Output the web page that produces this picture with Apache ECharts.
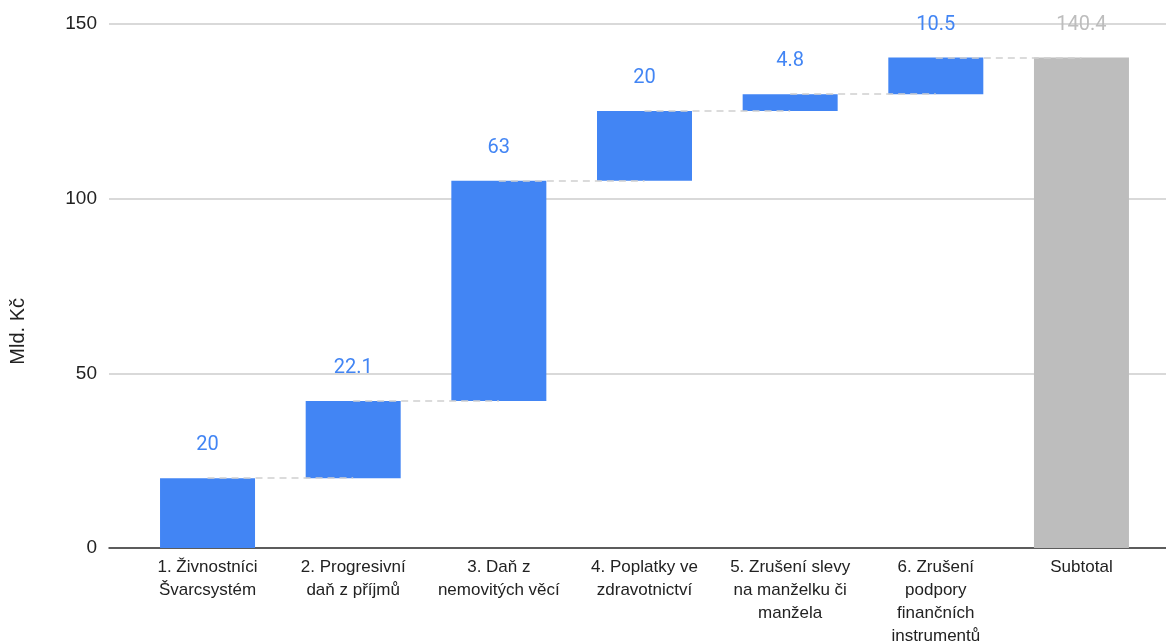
<!DOCTYPE html>
<html>
<head>
<meta charset="utf-8">
<script src="https://cdn.jsdelivr.net/npm/echarts@6/dist/echarts.min.js"></script>
<style>
  html, body { margin: 0; padding: 0; background: #fff; }
  #chart { width: 1166px; height: 642px; }
</style>
</head>
<body>
<div id="chart"></div>
<script>
// waterfall - Mld. Kč
var categories = [
    '1. Živnostníci\nŠvarcsystém',
    '2. Progresivní\ndaň z příjmů',
    '3. Daň z\nnemovitých věcí',
    '4. Poplatky ve\nzdravotnictví',
    '5. Zrušení slevy\nna manželku či\nmanžela',
    '6. Zrušení\npodpory\nfinančních\ninstrumentů',
    'Subtotal'
];
var increments = [20, 22.1, 63, 20, 4.8, 10.5];
var subtotal = 140.4;
var yTicks = [0, 50, 100, 150];

var blue = '#4285f4';
var grey = '#bdbdbd';

// base (invisible) + visible part
var base = [];
var bars = [];
var cum = [];
var sum = 0;
for (var i = 0; i < increments.length; i++) {
    base.push(sum);
    sum = Math.round((sum + increments[i]) * 10) / 10;
    cum.push(sum);
    bars.push({ value: increments[i], itemStyle: { color: blue }, label: { color: blue } });
}
base.push(0);
bars.push({ value: subtotal, itemStyle: { color: grey }, label: { color: grey } });

// dashed connectors
var connectors = [];
for (var i = 0; i < cum.length; i++) {
    connectors.push([{ coord: [i, cum[i]] }, { coord: [i + 1, cum[i]] }]);
}

var myChart = echarts.init(document.getElementById('chart'));

var option = {
    animation: false,
    grid: [
        { left: 109, right: 0, top: 24, bottom: 94, outerBoundsMode: 'none', containLabel: false },
        { left: 134.7, right: 11.7, top: 24, bottom: 94, outerBoundsMode: 'none', containLabel: false }
    ],
    xAxis: [
        {
            gridIndex: 0, type: 'value', min: 0, max: 1,
            axisLabel: { show: false }, splitLine: { show: false }, axisTick: { show: false },
            axisLine: { show: true, onZero: false, lineStyle: { color: '#333', width: 1.5 } }
        },
        {
            gridIndex: 1, type: 'category', data: categories,
            axisLine: { show: false }, axisTick: { show: false },
            axisLabel: {
                interval: 0, color: '#222', fontFamily: 'Liberation Sans, Arial, sans-serif',
                fontSize: 17, lineHeight: 23, margin: 8
            }
        }
    ],
    yAxis: [
        {
            gridIndex: 0, type: 'value', min: yTicks[0], max: yTicks[yTicks.length - 1], interval: 50,
            axisLine: { show: false }, axisTick: { show: false },
            axisLabel: { color: '#222', fontFamily: 'Liberation Sans, Arial, sans-serif', fontSize: 19, margin: 12 },
            splitLine: { lineStyle: { color: '#cccccc', width: 1.5 } }
        },
        {
            gridIndex: 1, type: 'value', min: yTicks[0], max: yTicks[yTicks.length - 1], interval: 50,
            axisLine: { show: false }, axisTick: { show: false },
            axisLabel: { show: false }, splitLine: { show: false }
        }
    ],
    graphic: [{
        type: 'text', left: 8, top: 298, rotation: Math.PI / 2,
        style: { text: 'Mld. Kč', fill: '#222', font: '20px "Liberation Sans", Arial, sans-serif' }
    }],
    series: [
        {
            name: 'base', type: 'bar', stack: 'w', xAxisIndex: 1, yAxisIndex: 1,
            barWidth: 95, itemStyle: { color: 'transparent' }, data: base, silent: true
        },
        {
            name: 'Mld. Kč', type: 'bar', stack: 'w', xAxisIndex: 1, yAxisIndex: 1,
            barWidth: 95, data: bars,
            label: {
                show: true, position: 'top', distance: 23,
                fontFamily: 'Roboto, sans-serif', fontSize: 20
            },
            markLine: {
                silent: true, symbol: 'none', label: { show: false },
                lineStyle: { color: '#d0d0d0', type: [7, 5], width: 1.5 },
                data: connectors
            }
        }
    ]
};

myChart.setOption(option);
</script>
</body>
</html>
